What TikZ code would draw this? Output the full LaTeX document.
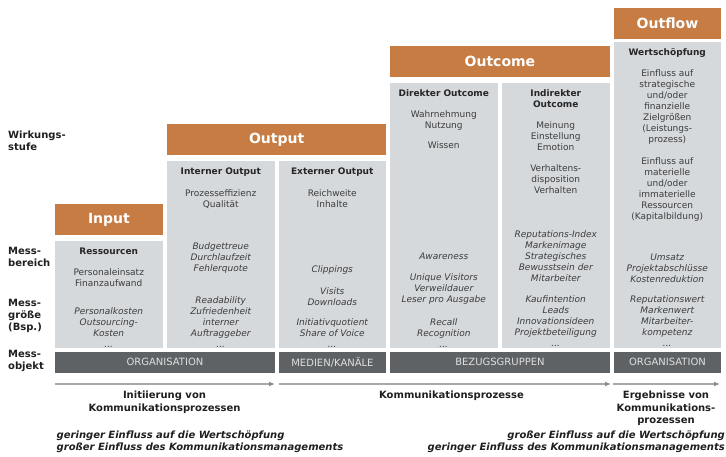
\documentclass[tikz,border=0pt]{standalone}
\usepackage{fontspec}
\setmainfont{DejaVu Sans}
\usetikzlibrary{arrows.meta}
\definecolor{orangeK}{HTML}{C77C43}
\definecolor{grauF}{HTML}{D6D9DC}
\definecolor{grauB}{HTML}{5E6265}
\definecolor{grauT}{HTML}{3C3C3C}
\definecolor{grauP}{HTML}{A8A8A8}
\tikzset{
  stufe/.style={fill=orangeK, text=white, anchor=north west, inner sep=0pt,
    minimum height=31pt, font=\fontsize{14}{16}\selectfont\bfseries},
  feld/.style={fill=grauF, anchor=north west, inner sep=0pt},
  objekt/.style={fill=grauB, text=white!88!black, anchor=north west, inner sep=0pt,
    minimum height=21pt, font=\fontsize{10}{12}\selectfont},
  txt/.style={anchor=north, align=center, inner sep=0pt, yshift=3.4pt, text=grauT,
    font=\fontsize{9}{11}\selectfont},
  titel/.style={txt, font=\fontsize{9}{11}\selectfont\bfseries, text=black!85},
  bsp/.style={txt, font=\fontsize{9}{11}\selectfont\itshape},
  zeile/.style={anchor=north west, align=left, inner sep=0pt, yshift=4pt, text=black!88,
    font=\fontsize{10}{12}\selectfont\bfseries},
  prozess/.style={anchor=north, align=center, inner sep=0pt, yshift=4pt, text=black!88,
    font=\fontsize{10}{12.5}\selectfont\bfseries},
  einfluss/.style={inner sep=0pt, yshift=4pt, text=black!88,
    font=\fontsize{10}{11.5}\selectfont\bfseries\itshape},
  pfeil/.style={draw=grauP, line width=1.4pt, -{Latex[length=6pt,width=5pt,color=black!45]}}
}
\begin{document}
\begin{tikzpicture}[x=1pt,y=-1pt]
  \useasboundingbox (0,0) rectangle (726,457);
  % Wirkungsstufen
  \node[stufe, minimum width=107.5pt] (input)   at (55,204)  {Input};
  \node[stufe, minimum width=219pt]   (output)  at (167,124) {Output};
  \node[stufe, minimum width=219.5pt] (outcome) at (390,46)  {Outcome};
  \node[stufe, minimum width=107.5pt] (outflow) at (613.5,8) {Outflow};
  % Messbereiche
  \node[feld, minimum width=107.5pt, minimum height=107pt] (ressourcen) at (55,241) {};
  \node[feld, minimum width=107.5pt, minimum height=187pt] (intern)     at (167,161) {};
  \node[feld, minimum width=107.5pt, minimum height=187pt] (extern)     at (278.5,161) {};
  \node[feld, minimum width=107.5pt, minimum height=265pt] (direkt)     at (390,83) {};
  \node[feld, minimum width=107.5pt, minimum height=265pt] (indirekt)   at (502,83) {};
  \node[feld, minimum width=107.5pt, minimum height=306pt] (wert)       at (613.5,42) {};
  % Messobjekte
  \node[objekt, minimum width=219.5pt] (orgA)   at (55,351.5)    {ORGANISATION};
  \node[objekt, minimum width=107.5pt] (medien) at (278.5,351.5) {MEDIEN/KANÄLE};
  \node[objekt, minimum width=219.5pt] (bezug)  at (390,351.5)   {BEZUGSGRUPPEN};
  \node[objekt, minimum width=107.5pt] (orgB)   at (613.5,351.5) {ORGANISATION};
  % Input
  \node[titel] (ressT) at (108.75,250.7) {Ressourcen};
  \node[txt]   (ressB) at (108.75,272)   {Personaleinsatz\\Finanzaufwand};
  \node[bsp]   (ressG) at (108.75,311)   {Personalkosten\\Outsourcing-\\Kosten\\...};
  % Interner Output
  \node[titel] (intT)  at (220.75,171)   {Interner Output};
  \node[txt]   (intB)  at (220.75,192.7) {Prozesseffizienz\\Qualität};
  \node[bsp]   (intG)  at (220.75,246)   {Budgettreue\\Durchlaufzeit\\Fehlerquote};
  \node[bsp]   (intH)  at (220.75,299.5) {Readability\\Zufriedenheit\\interner\\Auftraggeber\\...};
  % Externer Output
  \node[titel] (extT)  at (332.25,171)   {Externer Output};
  \node[txt]   (extB)  at (332.25,192.7) {Reichweite\\Inhalte};
  \node[bsp]   (extG)  at (332.25,268.7) {Clippings};
  \node[bsp]   (extH)  at (332.25,290.7) {Visits\\Downloads};
  \node[bsp]   (extI)  at (332.25,321.7) {Initiativquotient\\Share of Voice\\...};
  % Direkter Outcome
  \node[titel] (dirT)  at (443.75,92.7)  {Direkter Outcome};
  \node[txt]   (dirB)  at (443.75,113.7) {Wahrnehmung\\Nutzung};
  \node[txt]   (dirC)  at (443.75,145)   {Wissen};
  \node[bsp]   (dirG)  at (443.75,255.7) {Awareness};
  \node[bsp]   (dirH)  at (443.75,277)   {Unique Visitors\\Verweildauer\\Leser pro Ausgabe};
  \node[bsp]   (dirI)  at (443.75,321.7) {Recall\\Recognition\\...};
  % Indirekter Outcome
  \node[titel] (indT)  at (555.75,92.7)  {Indirekter\\Outcome};
  \node[txt]   (indB)  at (555.75,125)   {Meinung\\Einstellung\\Emotion};
  \node[txt]   (indC)  at (555.75,167.7) {Verhaltens-\\disposition\\Verhalten};
  \node[bsp]   (indG)  at (555.75,233.7) {Reputations-Index\\Markenimage\\Strategisches\\Bewusstsein der\\Mitarbeiter};
  \node[bsp]   (indH)  at (555.75,298.7) {Kaufintention\\Leads\\Innovationsideen\\Projektbeteiligung\\...};
  % Outflow
  \node[titel] (wertT) at (667.25,51.7)  {Wertschöpfung};
  \node[txt]   (wertB) at (667.25,72.7)  {Einfluss auf\\strategische\\und/oder\\finanzielle\\Zielgrößen\\(Leistungs-\\prozess)};
  \node[txt]   (wertC) at (667.25,161)   {Einfluss auf\\materielle\\und/oder\\immaterielle\\Ressourcen\\(Kapitalbildung)};
  \node[bsp]   (wertG) at (667.25,256.7) {Umsatz\\Projektabschlüsse\\Kostenreduktion};
  \node[bsp]   (wertH) at (667.25,299.3) {Reputationswert\\Markenwert\\Mitarbeiter-\\kompetenz\\...};
  % Zeilen
  \node[zeile] (wirkung) at (8,135) {Wirkungs-\\stufe};
  \node[zeile] (bereich) at (8,251) {Mess-\\bereich};
  \node[zeile] (groesse) at (8,303) {Mess-\\größe\\(Bsp.)};
  \node[zeile] (objekt)  at (8,354) {Mess-\\objekt};
  % Prozesse
  \coordinate (p0) at (55,384);
  \coordinate (p1) at (275,384);
  \coordinate (p2) at (279,384);
  \coordinate (p3) at (611,384);
  \coordinate (p4) at (613,384);
  \coordinate (p5) at (720,384);
  \draw[pfeil] (p0) -- (p1);
  \draw[pfeil] (p2) -- (p3);
  \draw[pfeil] (p4) -- (p5);
  \node[prozess] (initiierung) at (164.5,395) {Initiierung von\\Kommunikationsprozessen};
  \node[prozess] (kommunikation) at (451.5,395) {Kommunikationsprozesse};
  \node[prozess] (ergebnisse) at (666,395) {Ergebnisse von\\Kommunikations-\\prozessen};
  \node[einfluss, anchor=north west, align=left]  (gering) at (56.5,435) {geringer Einfluss auf die Wertschöpfung\\großer Einfluss des Kommunikationsmanagements};
  \node[einfluss, anchor=north east, align=right] (gross)  at (725,435)  {großer Einfluss auf die Wertschöpfung\\geringer Einfluss des Kommunikationsmanagements};
\end{tikzpicture}
\end{document}
